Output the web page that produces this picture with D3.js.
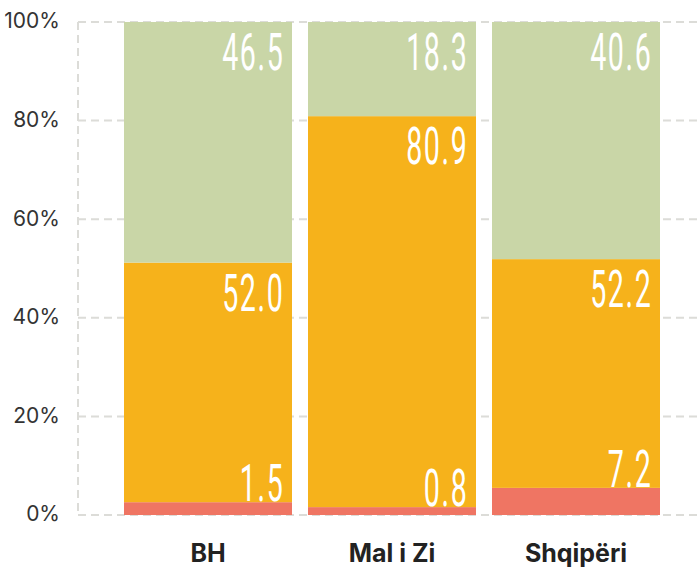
<!DOCTYPE html>
<html>
<head>
<meta charset="utf-8">
<script src="https://cdn.jsdelivr.net/npm/d3@7"></script>
<style>
  html, body { margin: 0; padding: 0; background: #fff; }
  svg { display: block; }
</style>
</head>
<body>
<svg id="chart" width="697" height="569"></svg>
<script>
// ---- data ----
const categories = ["BH", "Mal i Zi", "Shqipëri"];
// segment shares as drawn (percent of bar height)
const redShare    = [2.6, 1.6, 5.5];
const orangeShare = [48.6, 79.3, 46.4];
const greenShare  = [48.8, 19.1, 48.1];
// value labels printed on the segments
const redLabels    = ["1.5", "0.8", "7.2"];
const orangeLabels = ["52.0", "80.9", "52.2"];
const greenLabels  = ["46.5", "18.3", "40.6"];
const yTicks = [0, 20, 40, 60, 80, 100];

const colors = { red: "#ef7563", orange: "#f6b21b", green: "#c9d6a7" };

const svg = d3.select("#chart");
const x = d3.scaleBand().domain(categories).range([116, 668]).paddingInner(16 / 184).paddingOuter(8 / 184);
const y = d3.scaleLinear().domain([0, 100]).range([515, 22]);

// grid
const grid = svg.append("g");
grid.selectAll("line.h").data(yTicks).join("line")
  .attr("x1", 78).attr("x2", 697)
  .attr("y1", d => y(d)).attr("y2", d => y(d))
  .attr("stroke", "#dcdcd8").attr("stroke-width", 2).attr("stroke-dasharray", "8,5");
grid.append("line")
  .attr("x1", 78).attr("x2", 78).attr("y1", y(100)).attr("y2", y(0))
  .attr("stroke", "#dcdcd8").attr("stroke-width", 2).attr("stroke-dasharray", "8,5");

// y axis labels
const yAxis = d3.axisLeft(y).tickValues(yTicks).tickFormat(d => d + "%").tickSize(0).tickPadding(0);
const ya = svg.append("g").attr("transform", "translate(60,0)").call(yAxis);
ya.select(".domain").remove();
ya.selectAll("text")
  .attr("font-family", "Inter, 'Open Sans', sans-serif")
  .attr("font-size", 21).attr("font-weight", 400)
  .attr("fill", "#333").attr("dy", "0.28em");

// stacked data
const rows = categories.map((c, i) => ({ cat: c, red: redShare[i], orange: orangeShare[i], green: greenShare[i] }));
const keys = ["red", "orange", "green"];
const stack = d3.stack().keys(keys)(rows);

svg.append("g").selectAll("g").data(stack).join("g")
  .attr("fill", d => colors[d.key])
  .selectAll("rect").data(d => d).join("rect")
  .attr("x", d => x(d.data.cat))
  .attr("width", x.bandwidth())
  .attr("y", d => y(d[1]))
  .attr("height", d => y(d[0]) - y(d[1]));

// value labels
const labels = { red: redLabels, orange: orangeLabels, green: greenLabels };
const sx = 0.55;
const lg = svg.append("g");
stack.forEach(layer => {
  layer.forEach((d, i) => {
    const xr = x(d.data.cat) + x.bandwidth() - 7.5;
    let yb;
    if (layer.key === "red") yb = y(d[1]) - 1;
    else yb = y(d[1]) + 48;
    lg.append("text")
      .attr("transform", `translate(${xr},${yb}) scale(${sx},1)`)
      .attr("text-anchor", "end")
      .attr("font-family", "Roboto, sans-serif")
      .attr("font-size", 52)
      .attr("font-weight", 400)
      .attr("letter-spacing", 3)
      .attr("fill", "#fff")
      .text(labels[layer.key][i]);
  });
});

// category labels
const xAxis = d3.axisBottom(x).tickSize(0).tickPadding(0);
const xa = svg.append("g").call(xAxis);
xa.select(".domain").remove();
xa.selectAll("text")
  .attr("y", 562).attr("dy", 0)
  .attr("font-family", "Inter, 'Open Sans', sans-serif")
  .attr("font-size", 25).attr("font-weight", 700)
  .attr("fill", "#222");
</script>
</body>
</html>
